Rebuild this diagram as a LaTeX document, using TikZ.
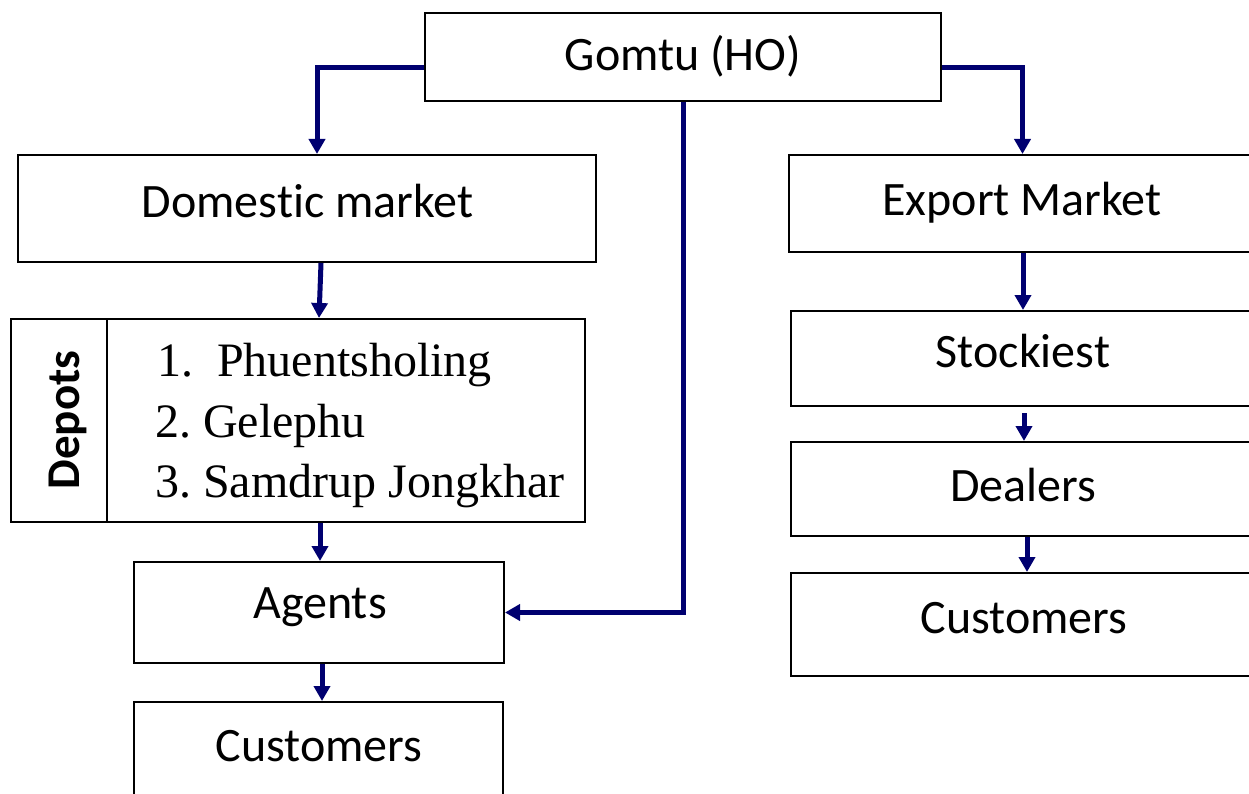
\documentclass[tikz,border=0pt]{standalone}
\usepackage{fontspec}
\setmainfont[Ligatures=NoCommon]{Carlito}
\newfontfamily\timesf{Liberation Serif}
\usetikzlibrary{arrows.meta}
\definecolor{arrowblue}{RGB}{0,0,112}
\frenchspacing
\begin{document}
\begin{tikzpicture}[x=1pt,y=-1pt,
  box/.style={draw=black, line width=2pt, rectangle, inner sep=0pt, fill=white},
  lbl/.style={anchor=base, inner sep=0pt, font=\fontsize{48}{56}\selectfont},
  item/.style={anchor=base west, inner sep=0pt, font=\timesf\fontsize{48}{56}\selectfont},
  conn/.style={draw=arrowblue, line width=5pt, -{Triangle[length=15pt,width=16pt]}},
]
\useasboundingbox (0,0) rectangle (1249,794);
\clip (0,0) rectangle (1249,794);
\fill[white] (0,0) rectangle (1249,794);

% boxes
\node[box, minimum width=516pt, minimum height=88pt] (gomtu) at (683,57) {};
\node[box, minimum width=578pt, minimum height=107pt] (dom) at (307,208.5) {};
\node[box, minimum width=471pt, minimum height=97pt] (exp) at (1024.5,203.5) {};
\node[box, minimum width=574pt, minimum height=203pt] (dep) at (298,420.5) {};
\node[box, minimum width=96pt, minimum height=203pt] (deplab) at (59,420.5) {};
\node[box, minimum width=370pt, minimum height=101pt] (agents) at (319,612.5) {};
\node[box, minimum width=369pt, minimum height=108pt] (custL) at (318.5,756) {};
\node[box, minimum width=469pt, minimum height=95pt] (stock) at (1025.5,358.5) {};
\node[box, minimum width=469pt, minimum height=94pt] (deal) at (1025.5,489) {};
\node[box, minimum width=469pt, minimum height=103pt] (custR) at (1025.5,624.5) {};

% labels
\node[lbl] (tgomtu) at (683,71) {Gomtu (HO)};
\node[lbl] (tdom) at (307.5,218) {Domestic market};
\node[lbl] (texp) at (1022,216) {Export Market};
\node[lbl] (tstock) at (1023,367) {Stockiest};
\node[lbl] (tdeal) at (1023,501) {Dealers};
\node[lbl] (tcustR) at (1024,633) {Customers};
\node[lbl] (tagents) at (320,618) {Agents};
\node[lbl] (tcustL) at (319,761) {Customers};
\node[lbl, rotate=90, font=\bfseries\fontsize{47}{56}\selectfont] (tdep) at (79,420) {Depots};
\node[item] (i1) at (157,376) {1.\ \ Phuentsholing};
\node[item] (i2) at (155,437) {2. Gelephu};
\node[item] (i3) at (155,497) {3. Samdrup Jongkhar};

% connectors
\draw[conn] ([yshift=-11pt]gomtu.west) -| ([xshift=10pt]dom.north);
\draw[conn] ([yshift=-11pt]gomtu.east) -| ([xshift=-2pt]exp.north);
\draw[conn] (gomtu.south) |- (agents.east);
\draw[conn] ([xshift=14pt]dom.south) -- ([xshift=21pt]dep.north);
\draw[conn] ([xshift=22pt]dep.south) -- ([xshift=1pt]agents.north);
\draw[conn] ([xshift=3pt]agents.south) -- ([xshift=3.5pt]custL.north);
\draw[conn] ([xshift=-1.5pt]exp.south) -- ([xshift=-2.5pt]stock.north);
\draw[conn] ([xshift=-1.5pt,yshift=-6pt]stock.south) -- ([xshift=-1.5pt]deal.north);
\draw[conn] ([xshift=1.5pt]deal.south) -- ([xshift=1.5pt]custR.north);
\end{tikzpicture}
\end{document}
